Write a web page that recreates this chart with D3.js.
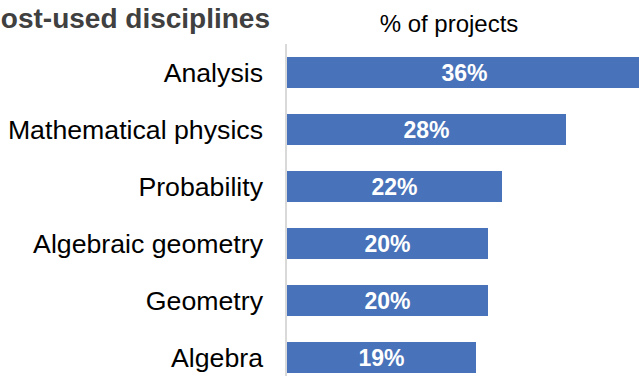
<!DOCTYPE html>
<html>
<head>
<meta charset="utf-8">
<script src="https://cdn.jsdelivr.net/npm/d3@7"></script>
<style>
  html, body { margin: 0; padding: 0; background: #fff; overflow: hidden; }
  svg { display: block; font-family: "Liberation Sans", Arial, sans-serif; }
</style>
</head>
<body>
<svg id="chart" width="639" height="376"></svg>
<script>
const categories = ["Analysis", "Mathematical physics", "Probability", "Algebraic geometry", "Geometry", "Algebra"];
const values = [35.5, 27.9, 21.5, 20.1, 20.1, 18.9];
const valueLabels = ["36%", "28%", "22%", "20%", "20%", "19%"];
const title = "Most-used disciplines";
const axisTitle = "% of projects";

const svg = d3.select("#chart");

const x = d3.scaleLinear().domain([0, 36]).range([287, 647]);
const y = d3.scaleBand().domain(categories).range([44, 386]).paddingInner(0.456).paddingOuter(0.228);

// title
svg.append("text")
  .attr("x", 270).attr("y", 28)
  .attr("text-anchor", "end")
  .attr("font-size", 28).attr("font-weight", "bold")
  .attr("fill", "#404040")
  .text(title);

svg.append("text")
  .attr("x", 449).attr("y", 32)
  .attr("text-anchor", "middle")
  .attr("font-size", 24)
  .attr("fill", "#000")
  .text(axisTitle);

// bars
svg.selectAll("rect.bar").data(categories).join("rect")
  .attr("class", "bar")
  .attr("x", x(0))
  .attr("y", d => y(d))
  .attr("width", (d, i) => x(values[i]) - x(0))
  .attr("height", y.bandwidth())
  .attr("fill", "#4872b9");

// axis line
const yAxis = d3.axisLeft(y).tickSize(0).tickPadding(23);
const g = svg.append("g").attr("transform", `translate(${x(0) - 1},0)`).call(yAxis);
g.select(".domain").attr("stroke", "#d9d9d9").attr("stroke-width", 2)
  .attr("d", `M0,44V376`);
g.selectAll(".tick text")
  .attr("font-size", 26.7)
  .attr("font-family", "Liberation Sans, Arial, sans-serif")
  .attr("fill", "#000")
  .attr("dy", "0.35em");

// value labels
svg.selectAll("text.val").data(categories).join("text")
  .attr("class", "val")
  .attr("x", (d, i) => (x(0) + x(values[i])) / 2)
  .attr("y", d => y(d) + y.bandwidth() / 2)
  .attr("dy", "0.36em")
  .attr("text-anchor", "middle")
  .attr("font-size", 23).attr("font-weight", "bold")
  .attr("fill", "#fff")
  .text((d, i) => valueLabels[i]);
</script>
</body>
</html>
